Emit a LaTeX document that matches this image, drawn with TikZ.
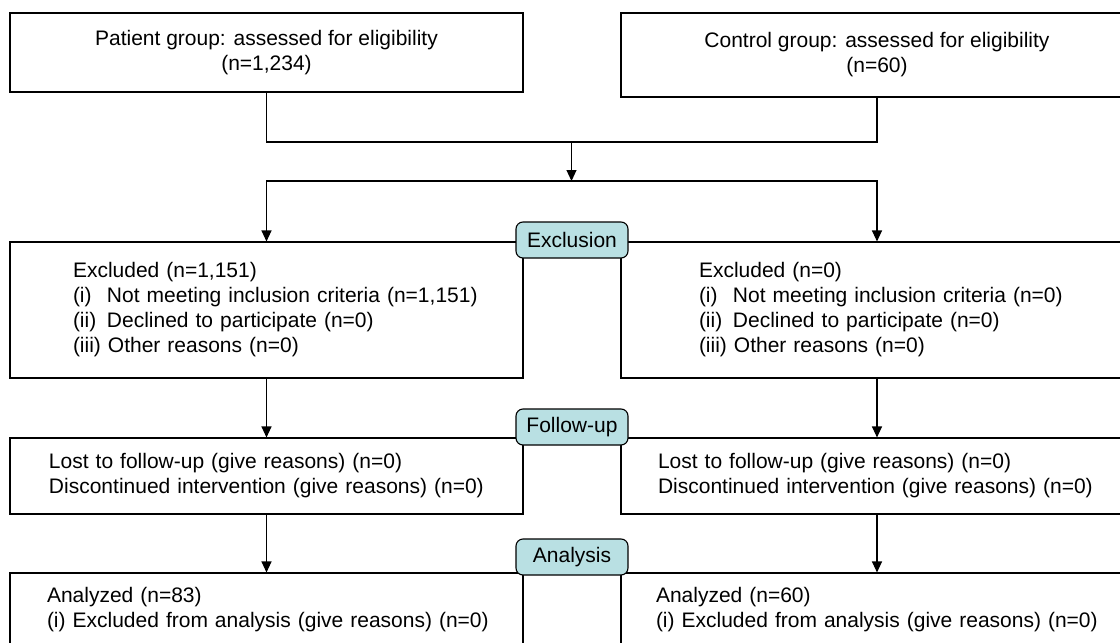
\documentclass[tikz,border=0pt]{standalone}
\usepackage{fontspec}
\setmainfont{Liberation Sans}
\usetikzlibrary{positioning,arrows.meta}
\definecolor{stagecyan}{RGB}{185,224,227}

\begin{document}
\begin{tikzpicture}[x=1pt, y=-1pt, line width=1.1pt,
            arr/.style ={-{Triangle[length=11pt,width=10pt]}},
            box/.style ={draw, rectangle, inner sep=0pt, font=\fontsize{21}{25}\selectfont},
            tbox/.style ={box, align=center},
            lbox/.style ={box, text width=#1, align=left},
            indent/.style ={execute at begin node={\leftskip=#1\relax}},
            stage/.style ={draw, rectangle, rounded corners=7pt, fill=stagecyan, inner sep=0pt,
            minimum width=112pt, minimum height=36pt, font=\fontsize{21}{25}\selectfont}]

            \useasboundingbox (0,0) rectangle (1120,643);
            \clip (0,0) rectangle (1120,643);

            %boxes at the top
            \node[tbox, minimum width=513pt, minimum height=79pt] (pat) at (266.5,52.5) {Patient group: assessed for eligibility\\(n=1,234)};
            \node[tbox, minimum width=512pt, minimum height=84pt] (ctl) at (877,55) {Control group: assessed for eligibility\\(n=60)};

            \node[lbox=513pt, indent=63pt, minimum height=136pt] (exL) at (266.5,310) {Excluded (n=1,151)\\
                \makebox[34pt][l]{(i)}Not meeting inclusion criteria (n=1,151)\\
                \makebox[34pt][l]{(ii)}Declined to participate (n=0)\\
                (iii) Other reasons (n=0)};
            \node[lbox=512pt, indent=78pt, minimum height=136pt] (exR) at (877,310) {Excluded (n=0)\\
                \makebox[34pt][l]{(i)}Not meeting inclusion criteria (n=0)\\
                \makebox[34pt][l]{(ii)}Declined to participate (n=0)\\
                (iii) Other reasons (n=0)};

            \node[lbox=513pt, indent=39pt, minimum height=76pt] (fuL) at (266.5,476) {Lost to follow-up (give reasons) (n=0)\\Discontinued intervention (give reasons) (n=0)};
            \node[lbox=512pt, indent=37pt, minimum height=76pt] (fuR) at (877,476) {Lost to follow-up (give reasons) (n=0)\\Discontinued intervention (give reasons) (n=0)};

            %cut off by the lower edge
            \node[lbox=513pt, indent=37pt, minimum height=74pt] (anL) at (266.5,610) {Analyzed (n=83)\\(i) Excluded from analysis (give reasons) (n=0)};
            \node[lbox=512pt, indent=35pt, minimum height=74pt] (anR) at (877,610) {Analyzed (n=60)\\(i) Excluded from analysis (give reasons) (n=0)};

            \coordinate (join) at (571.5,142);
            \coordinate (split) at (571.5,181);

            \draw (pat.south) |- (join) -| (ctl.south);
            \draw[arr] (join) -- (split);
            \draw[arr] (split) -| (exL.north);
            \draw[arr] (split) -| (exR.north);
            \draw[arr] (exL.south) -- (fuL.north);
            \draw[arr] (exR.south) -- (fuR.north);
            \draw[arr] (fuL.south) -- (anL.north);
            \draw[arr] (fuR.south) -- (anR.north);

            \node[stage] (exc) at (572,240) {Exclusion};
            \node[stage] (fol) at (572,427) {Follow-up};
            \node[stage] (ana) at (572,557) {Analysis};
        \end{tikzpicture}
\end{document}
